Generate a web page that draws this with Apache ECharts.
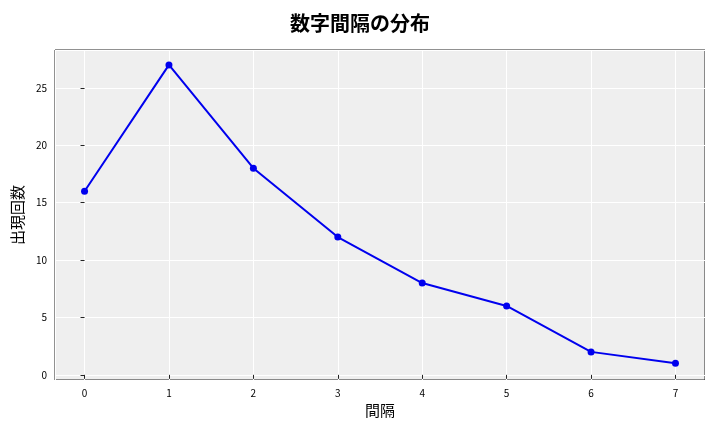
<!DOCTYPE html>
<html><head><meta charset="utf-8">
<script src="https://cdn.jsdelivr.net/npm/echarts@6/dist/echarts.min.js"></script>
<style>body{margin:0}#c{width:720px;height:432px}</style></head>
<body><div id="c"></div>
<script>
const gaps = [0,1,2,3,4,5,6,7];
const counts = [16,27,18,12,8,6,2,1];
const font = '"Noto Sans CJK JP", "DejaVu Sans", sans-serif';
const chart = echarts.init(document.getElementById('c'));
chart.setOption({
  animation:false,
  title:{text:'数字間隔の分布',left:'center',top:8,textStyle:{fontFamily:font,fontSize:20,fontWeight:'bold',color:'#000'}},
  grid:{left:55,right:15,top:50,bottom:52,show:true,backgroundColor:'#efefef',borderColor:'#222',borderWidth:1},
  xAxis:{type:'value',min:-0.35,max:7.35,splitNumber:8,name:'間隔',nameLocation:'middle',nameGap:23,
    nameTextStyle:{fontFamily:font,fontSize:15,color:'#000'},
    axisLine:{show:false},axisTick:{show:true,length:4,lineStyle:{color:'#222'}},
    axisLabel:{showMinLabel:false,showMaxLabel:false,fontSize:10,color:'#000',fontFamily:font},
    splitLine:{show:true,lineStyle:{color:'#fff',width:1}}},
  yAxis:{type:'value',min:-0.45,max:28.3,splitNumber:6,name:'出現回数',nameLocation:'middle',nameGap:27,
    nameTextStyle:{fontFamily:font,fontSize:15,color:'#000'},
    axisLine:{show:false},axisTick:{show:true,length:4,lineStyle:{color:'#222'}},
    axisLabel:{showMinLabel:false,showMaxLabel:false,fontSize:10,color:'#000',fontFamily:font},
    splitLine:{show:true,lineStyle:{color:'#fff',width:1}}},
  series:[{type:'line',data:gaps.map((g,i)=>[g,counts[i]]),color:'#0000ee',
    lineStyle:{width:2,color:'#0000ee'},symbol:'circle',symbolSize:7,
    itemStyle:{color:'#0000ee'}}]
});
</script></body></html>
